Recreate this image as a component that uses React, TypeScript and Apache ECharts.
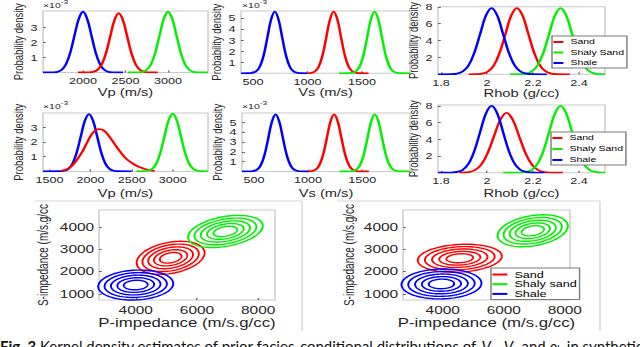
import React, { useEffect, useRef } from "react";
import * as echarts from "echarts";

// ---------- DATA ----------
// Row 1: prior densities (x, density ×1e-3 for velocities)
const vpShaleTop = [[1530,0],[1650,0.01],[1700,0.045],[1750,0.18],[1800,0.55],[1850,1.31],[1900,2.46],[1950,3.57],[2000,4.05],[2050,3.57],[2100,2.46],[2150,1.31],[2200,0.55],[2250,0.18],[2300,0.045],[2350,0.01],[2470,0]];
const vpSandTop = [[1940,0],[2070,0.01],[2120,0.044],[2170,0.17],[2220,0.53],[2270,1.28],[2320,2.4],[2370,3.49],[2420,3.95],[2470,3.49],[2520,2.4],[2570,1.28],[2620,0.53],[2670,0.17],[2720,0.044],[2770,0.01],[2880,0]];
const vpShalySandTop = [[2530,0],[2650,0.01],[2700,0.045],[2750,0.18],[2800,0.55],[2850,1.31],[2900,2.46],[2950,3.57],[3000,4.05],[3050,3.57],[3100,2.46],[3150,1.31],[3200,0.55],[3250,0.18],[3300,0.045],[3350,0.01],[3470,0]];

const vsShaleTop = [[390,0],[455,0.005],[490,0.03],[525,0.15],[560,0.55],[595,1.52],[630,3.14],[665,4.85],[700,5.6],[735,4.85],[770,3.14],[805,1.52],[840,0.55],[875,0.15],[910,0.03],[945,0.005],[1000,0]];
const vsSandTop = [[1000,0.002],[1030,0.03],[1065,0.15],[1100,0.55],[1135,1.52],[1170,3.14],[1205,4.85],[1240,5.6],[1275,4.85],[1310,3.14],[1345,1.52],[1380,0.55],[1415,0.15],[1450,0.03],[1485,0.005],[1560,0]];
const vsShalySandTop = [[1290,0],[1370,0.005],[1405,0.03],[1440,0.15],[1475,0.55],[1510,1.52],[1545,3.14],[1580,4.85],[1615,5.6],[1650,4.85],[1685,3.14],[1720,1.52],[1755,0.55],[1790,0.15],[1825,0.03],[1860,0.005],[1940,0]];

const rhobShaleTop = [[1.787,0],[1.845,0.017],[1.87,0.087],[1.895,0.34],[1.92,1.06],[1.945,2.55],[1.97,4.76],[1.995,6.93],[2.02,7.85],[2.045,6.93],[2.07,4.76],[2.095,2.55],[2.12,1.06],[2.145,0.34],[2.17,0.087],[2.195,0.017],[2.26,0]];
const rhobSandTop = [[1.92,0],[1.955,0.017],[1.98,0.087],[2.005,0.34],[2.03,1.06],[2.055,2.55],[2.08,4.76],[2.105,6.93],[2.13,7.85],[2.155,6.93],[2.18,4.76],[2.205,2.55],[2.23,1.06],[2.255,0.34],[2.28,0.087],[2.305,0.017],[2.36,0]];
const rhobShalySandTop = [[2.1,0],[2.145,0.017],[2.17,0.087],[2.195,0.34],[2.22,1.06],[2.245,2.55],[2.27,4.76],[2.295,6.93],[2.32,7.85],[2.345,6.93],[2.37,4.76],[2.395,2.55],[2.42,1.06],[2.445,0.34],[2.47,0.087],[2.495,0.017],[2.513,0.004]];

// Row 2
const vpShaleBot = [[1420,0],[1630,0.009],[1680,0.043],[1730,0.17],[1780,0.53],[1830,1.27],[1880,2.37],[1930,3.44],[1980,3.9],[2030,3.44],[2080,2.37],[2130,1.27],[2180,0.53],[2230,0.17],[2280,0.043],[2330,0.009],[2500,0]];
const vpSandBot = [[1640,0.03],[1710,0.15],[1760,0.32],[1810,0.6],[1860,1.0],[1910,1.45],[1960,2.0],[2010,2.5],[2060,2.8],[2110,2.88],[2160,2.78],[2210,2.5],[2260,2.12],[2310,1.72],[2360,1.34],[2410,1.0],[2460,0.74],[2510,0.55],[2560,0.38],[2610,0.26],[2660,0.16],[2710,0.09],[2780,0.03]];
const vpShalySandBot = [[2560,0],[2650,0.009],[2700,0.043],[2750,0.17],[2800,0.53],[2850,1.28],[2900,2.39],[2950,3.47],[3000,3.93],[3050,3.47],[3100,2.39],[3150,1.28],[3200,0.53],[3250,0.17],[3300,0.043],[3350,0.009],[3430,0]];

const vsShaleBot = [[390,0],[455,0.005],[490,0.03],[525,0.16],[560,0.57],[595,1.57],[630,3.25],[665,5.02],[700,5.8],[735,5.02],[770,3.25],[805,1.57],[840,0.57],[875,0.16],[910,0.03],[945,0.005],[1000,0]];
const vsSandBot = [[1000,0.002],[1030,0.03],[1065,0.16],[1100,0.57],[1135,1.57],[1170,3.25],[1205,5.02],[1240,5.8],[1275,5.02],[1310,3.25],[1345,1.57],[1380,0.57],[1415,0.16],[1450,0.03],[1485,0.005],[1560,0]];
const vsShalySandBot = [[1290,0],[1370,0.005],[1405,0.03],[1440,0.16],[1475,0.57],[1510,1.57],[1545,3.25],[1580,5.02],[1615,5.8],[1650,5.02],[1685,3.25],[1720,1.57],[1755,0.57],[1790,0.16],[1825,0.03],[1860,0.005],[1940,0]];

const rhobShaleBot = [[1.787,0],[1.845,0.018],[1.87,0.089],[1.895,0.35],[1.92,1.08],[1.945,2.6],[1.97,4.85],[1.995,7.06],[2.02,8.0],[2.045,7.06],[2.07,4.85],[2.095,2.6],[2.12,1.08],[2.145,0.35],[2.17,0.089],[2.195,0.018],[2.25,0]];
const rhobSandBot = [[1.88,0.008],[1.8925,0.016],[1.92,0.079],[1.9475,0.31],[1.975,0.97],[2.0025,2.32],[2.03,4.34],[2.0575,6.31],[2.085,7.15],[2.1125,6.31],[2.14,4.34],[2.1675,2.32],[2.195,0.97],[2.2225,0.31],[2.25,0.079],[2.2775,0.016],[2.33,0]];
const rhobShalySandBot = [[2.07,0],[2.145,0.018],[2.17,0.089],[2.195,0.35],[2.22,1.08],[2.245,2.6],[2.27,4.85],[2.295,7.06],[2.32,8.0],[2.345,7.06],[2.37,4.85],[2.395,2.6],[2.42,1.08],[2.445,0.35],[2.47,0.089],[2.495,0.018],[2.513,0.004]];

// Row 3: contour ellipses [centre Ip, centre Is, half-width Ip, half-height Is, correlation]
const ellLeftSand = [5140, 2620, 1110, 740, 0.3];
const ellLeftShalySand = [6930, 3800, 1220, 720, 0.35];
const ellLeftShale = [4000, 1400, 1225, 670, 0.1];
const ellRightSand = [4560, 2600, 1377, 627, 0.15];
const ellRightShalySand = [6950, 3830, 1150, 716, 0.3];
const ellRightShale = [3960, 1450, 1310, 670, 0.05];
const contourLevels = [1, 0.83, 0.66, 0.49, 0.32];

// Tick labels
const vpTicksTop = [2000, 2500, 3000];
const vpTicksBot = [1500, 2000, 2500, 3000];
const vsTicks = [500, 1000, 1500];
const rhobTicks = [1.8, 2, 2.2, 2.4];
const densVpTicks = [1, 2, 3];
const densVsTicks = [1, 2, 3, 4, 5];
const densRhobTicks = [2, 4, 6, 8];
const ipTicks = [4000, 6000, 8000];
const isTicks = [1000, 2000, 3000, 4000];

const faciesNames = ["Sand", "Shaly Sand", "Shale"];
const faciesNamesImp = ["Sand", "Shaly sand", "Shale"];

// ---------- LAYOUT ----------
const BASE_W = 457;
const STRETCH = 640 / BASE_W;
const sx = (px: number) => px / STRETCH;
const FONT = "Liberation Sans, Arial, Helvetica, sans-serif";
const CAP_FONT = "Lato, Open Sans, sans-serif";
const TXT = "#262626";
const RED = "#ff0000";
const GREEN = "#00f000";
const BLUE = "#0000ff";

type Panel = {
  l: number; r: number; t: number; b: number;
  xMin: number; xMax: number; xTicks: number[];
  yMin: number; yMax: number; yTicks: number[];
  xName: string; yName: string;
  xNameGap: number; yNameGap: number;
  tick: number; name: number; yNameSize: number;
  xMargin: number; yMargin: number;
};

const P = "Probability density";
const panels: Panel[] = [
  { l: 43, r: 208, t: 11, b: 72.5, xMin: 1530, xMax: 3470, xTicks: vpTicksTop, yMin: 0, yMax: 4.1, yTicks: densVpTicks, xName: "Vp (m/s)", yName: P, xNameGap: 12, yNameGap: 9, tick: 9, name: 10.5, yNameSize: 9.5, xMargin: 4, yMargin: 4 },
  { l: 241, r: 410, t: 11, b: 73.3, xMin: 390, xMax: 1940, xTicks: vsTicks, yMin: 0, yMax: 5.65, yTicks: densVsTicks, xName: "Vs (m/s)", yName: P, xNameGap: 12, yNameGap: 9.5, tick: 9, name: 10.5, yNameSize: 9.5, xMargin: 4, yMargin: 4 },
  { l: 438, r: 605, t: 5, b: 74.3, xMin: 1.787, xMax: 2.513, xTicks: rhobTicks, yMin: 0, yMax: 8, yTicks: densRhobTicks, xName: "Rhob (g/cc)", yName: P, xNameGap: 10, yNameGap: 7.5, tick: 9, name: 10.5, yNameSize: 9.5, xMargin: 4, yMargin: 4 },
  { l: 43, r: 208, t: 113, b: 171.4, xMin: 1420, xMax: 3430, xTicks: vpTicksBot, yMin: 0, yMax: 3.97, yTicks: densVpTicks, xName: "Vp (m/s)", yName: P, xNameGap: 16, yNameGap: 9.5, tick: 9, name: 10.5, yNameSize: 9.5, xMargin: 4, yMargin: 4 },
  { l: 242, r: 410, t: 113, b: 171.5, xMin: 390, xMax: 1940, xTicks: vsTicks, yMin: 0, yMax: 5.94, yTicks: densVsTicks, xName: "Vs (m/s)", yName: P, xNameGap: 16, yNameGap: 10, tick: 9, name: 10.5, yNameSize: 9.5, xMargin: 4, yMargin: 4 },
  { l: 438, r: 605, t: 105, b: 172.7, xMin: 1.787, xMax: 2.513, xTicks: rhobTicks, yMin: 0, yMax: 8.1, yTicks: densRhobTicks, xName: "Rhob (g/cc)", yName: P, xNameGap: 15.5, yNameGap: 7.5, tick: 9, name: 10.5, yNameSize: 9.5, xMargin: 4, yMargin: 4 },
  { l: 99, r: 275, t: 210, b: 300, xMin: 2800, xMax: 8550, xTicks: ipTicks, yMin: 730, yMax: 4760, yTicks: isTicks, xName: "P-impedance (m/s.g/cc)", yName: "S-impedance (m/s.g/cc", xNameGap: 17, yNameGap: 35, tick: 11, name: 12, yNameSize: 10, xMargin: 4.5, yMargin: 3.5 },
  { l: 403, r: 570, t: 210, b: 300, xMin: 2700, xMax: 8170, xTicks: ipTicks, yMin: 730, yMax: 4760, yTicks: isTicks, xName: "P-impedance (m/s.g/cc)", yName: "S-impedance (m/s.g/cc", xNameGap: 17, yNameGap: 33, tick: 11, name: 12, yNameSize: 10, xMargin: 4.5, yMargin: 3.5 },
];

const lineSeries = (name: string, color: string, data: number[][], idx: number) => ({
  type: "line", name, xAxisIndex: idx, yAxisIndex: idx, data,
  showSymbol: false, symbol: "none", smooth: 0.35,
  lineStyle: { color, width: 1.8 }, itemStyle: { color }, z: 3,
});

function ellipseRenderItem(_params: any, api: any) {
  const cx = api.value(0), cy = api.value(1), ax = api.value(2), ay = api.value(3), rho = api.value(4);
  const q = Math.sqrt(1 - rho * rho);
  const pts: number[][] = [];
  const n = 96;
  for (let k = 0; k <= n; k++) {
    const t = (k / n) * Math.PI * 2;
    pts.push(api.coord([cx + ax * Math.cos(t), cy + ay * (rho * Math.cos(t) + q * Math.sin(t))]));
  }
  return { type: "polyline", shape: { points: pts }, style: { stroke: api.visual("color"), fill: "none", lineWidth: 1.4 } };
}

const ellipseSeries = (name: string, color: string, e: number[], idx: number) => ({
  type: "custom", name, xAxisIndex: idx, yAxisIndex: idx,
  dimensions: ["cx", "cy", "ax", "ay", "rho"],
  encode: { x: "cx", y: "cy" },
  data: contourLevels.map((k) => [e[0], e[1], e[2] * k, e[3] * k, e[4]]),
  itemStyle: { color }, renderItem: ellipseRenderItem, z: 3,
});

const legendBase = (left: number, top: number, names: string[], fontSize: number, itemW: number, gap: number) => ({
  show: true, data: names, orient: "vertical", left: sx(left), top, icon: "rect",
  itemWidth: sx(itemW), itemHeight: 2, itemGap: gap, padding: [2, 2, 1, 1],
  textStyle: { fontSize, color: "#000", fontFamily: FONT },
  borderColor: "#7a7a7a", borderWidth: 1, backgroundColor: "#fff", selectedMode: false,
});

const sup = (x: number, y: number) => [
  { type: "text", x: sx(x), y, style: { text: "×10", fontSize: 7.5, fontFamily: FONT, fill: TXT, verticalAlign: "middle" } },
  { type: "text", x: sx(x) + 12.6, y: y - 4, style: { text: "-3", fontSize: 6, fontFamily: FONT, fill: TXT, verticalAlign: "middle" } },
];

function buildOption() {
  const series: any[] = [
    lineSeries("Shale", BLUE, vpShaleTop, 0),
    lineSeries("Sand", RED, vpSandTop, 0),
    lineSeries("Shaly Sand", GREEN, vpShalySandTop, 0),
    lineSeries("Shale", BLUE, vsShaleTop, 1),
    lineSeries("Sand", RED, vsSandTop, 1),
    lineSeries("Shaly Sand", GREEN, vsShalySandTop, 1),
    lineSeries("Sand", RED, rhobSandTop, 2),
    lineSeries("Shaly Sand", GREEN, rhobShalySandTop, 2),
    lineSeries("Shale", BLUE, rhobShaleTop, 2),
    lineSeries("Shale", BLUE, vpShaleBot, 3),
    lineSeries("Sand", RED, vpSandBot, 3),
    lineSeries("Shaly Sand", GREEN, vpShalySandBot, 3),
    lineSeries("Shale", BLUE, vsShaleBot, 4),
    lineSeries("Sand", RED, vsSandBot, 4),
    lineSeries("Shaly Sand", GREEN, vsShalySandBot, 4),
    lineSeries("Sand", RED, rhobSandBot, 5),
    lineSeries("Shaly Sand", GREEN, rhobShalySandBot, 5),
    lineSeries("Shale", BLUE, rhobShaleBot, 5),
    ellipseSeries("Sand", RED, ellLeftSand, 6),
    ellipseSeries("Shaly sand", GREEN, ellLeftShalySand, 6),
    ellipseSeries("Shale", BLUE, ellLeftShale, 6),
    ellipseSeries("Sand", RED, ellRightSand, 7),
    ellipseSeries("Shaly sand", GREEN, ellRightShalySand, 7),
    ellipseSeries("Shale", BLUE, ellRightShale, 7),
  ];

  const caption =
    "{b|Fig. 3} Kernel density estimates of prior facies-conditional distributions of {i|V}{s|p}, {i|V}{s|s} and {i|ρ}{s|b} in synthetic";
  const capSize = 15;

  return {
    animation: false,
    backgroundColor: "#fff",
    grid: panels.map((p) => ({
      left: sx(p.l), width: sx(p.r - p.l), top: p.t, height: p.b - p.t,
      show: true, borderColor: "#c9c9c9", borderWidth: 1, backgroundColor: "#fff", containLabel: false,
    })),
    xAxis: panels.map((p, i) => ({
      type: "value", gridIndex: i, min: p.xMin, max: p.xMax,
      name: p.xName, nameLocation: "middle", nameGap: p.xNameGap,
      nameTextStyle: { fontSize: p.name, color: TXT, fontFamily: FONT, fontWeight: "normal" },
      axisLine: { show: false },
      axisTick: { show: true, inside: true, length: 2, customValues: p.xTicks, lineStyle: { color: "#666" } },
      axisLabel: { customValues: p.xTicks, formatter: (v: number) => String(v), fontSize: p.tick, color: TXT, fontFamily: FONT, margin: p.xMargin },
      splitLine: { show: false },
    })),
    yAxis: panels.map((p, i) => ({
      type: "value", gridIndex: i, min: p.yMin, max: p.yMax,
      name: p.yName, nameLocation: "middle", nameGap: p.yNameGap, nameRotate: 90,
      nameTextStyle: { fontSize: p.yNameSize, color: TXT, fontFamily: FONT, fontWeight: "normal" },
      axisLine: { show: false },
      axisTick: { show: true, inside: true, length: 2, customValues: p.yTicks, lineStyle: { color: "#666" } },
      axisLabel: { customValues: p.yTicks, formatter: (v: number) => String(v), fontSize: p.tick, color: TXT, fontFamily: FONT, margin: p.yMargin },
      splitLine: { show: false },
    })),
    legend: [
      legendBase(552, 36, faciesNames, 7.5, 10, 2.5),
      legendBase(551, 132, faciesNames, 7.5, 10, 3),
      legendBase(491, 268, faciesNamesImp, 9, 15, 0.7),
    ],
    graphic: [
      ...sup(43, 5.5),
      ...sup(242, 5.5),
      ...sup(43, 107),
      ...sup(242, 107),
      { type: "line", shape: { x1: sx(35), y1: 201, x2: sx(302), y2: 201 }, style: { stroke: "#d6d6d6", lineWidth: 1 } },
      { type: "line", shape: { x1: sx(302), y1: 201, x2: sx(302), y2: 331 }, style: { stroke: "#d6d6d6", lineWidth: 1 } },
      { type: "line", shape: { x1: sx(337), y1: 201, x2: sx(600), y2: 201 }, style: { stroke: "#d6d6d6", lineWidth: 1 } },
      { type: "line", shape: { x1: sx(600), y1: 201, x2: sx(600), y2: 331 }, style: { stroke: "#d6d6d6", lineWidth: 1 } },
      {
        type: "text", x: 0, y: 338, scaleX: 1.0 / STRETCH,
        style: {
          text: caption, fontSize: capSize, fontFamily: CAP_FONT, fill: "#111", verticalAlign: "top",
          rich: {
            b: { fontWeight: "bold", fontSize: capSize, fontFamily: CAP_FONT },
            i: { fontStyle: "italic", fontSize: capSize, fontFamily: CAP_FONT },
            s: { fontSize: 10, fontFamily: CAP_FONT, verticalAlign: "bottom" },
          },
        },
      },
    ],
    series,
  };
}

export default function App() {
  const ref = useRef<HTMLDivElement>(null);
  useEffect(() => {
    if (!ref.current) return;
    const chart = echarts.init(ref.current, null, { renderer: "svg" });
    chart.setOption(buildOption() as any);
    return () => chart.dispose();
  }, []);
  return (
    <div style={{ position: "absolute", left: 0, top: 0, width: 640, height: 347, overflow: "hidden", background: "#fff" }}>
      <div ref={ref} style={{ width: BASE_W, height: 347, transform: `scaleX(${STRETCH})`, transformOrigin: "0 0" }} />
    </div>
  );
}
